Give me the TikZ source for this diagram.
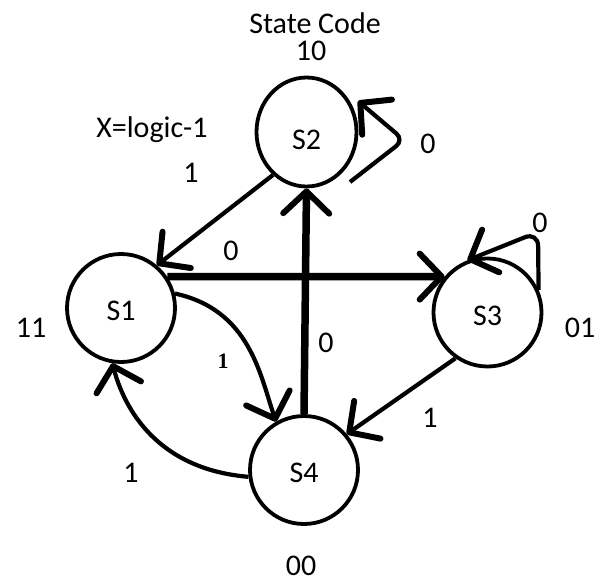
\documentclass[tikz,border=0pt]{standalone}
\usepackage{fontspec}
\setmainfont{Carlito}
\newfontfamily\labserif{Liberation Serif}
\usetikzlibrary{arrows.meta,shapes.geometric}
\begin{document}
\begin{tikzpicture}[x=1pt,y=-1pt,
  txt/.style={font=\fontsize{30}{36}\selectfont},
  state/.style={circle,draw,line width=3.8pt,inner sep=0pt,minimum size=108pt,
    txt,text height=25pt,text depth=0pt},
  barbtip/.style={-{Straight Barb[length=22pt,width=46pt,line width=6pt,round]}},
  thinedge/.style={line width=4.2pt,barbtip},
  thickedge/.style={line width=7.5pt,barbtip},
  lab/.style={txt,inner sep=0pt,anchor=base}]
\useasboundingbox (0,0) rectangle (605,581);

% states
\node[ellipse,draw,line width=3.8pt,inner sep=0pt,minimum width=100pt,minimum height=109pt,
  txt,text height=35pt,text depth=0pt] (S2) at (306.5,132) {S2};
\node[state] (S1) at (121,308) {S1};
\node[state] (S3) at (487.5,312.5) {S3};
\node[state] (S4) at (304,470) {S4};

% state codes and headings
\node[lab] (head) at (315,33) {State Code};
\node[lab] (c2) at (311,60) {10};
\node[lab] (c1) at (31,337) {11};
\node[lab] (c3) at (580,337) {01};
\node[lab] (c4) at (301,575) {00};
\node[lab] (cond) at (152,137) {X=logic-1};

% transitions
\draw[thinedge] (S2.232) -- (S1.50);
\draw[thickedge] (S1.34) -- (S3.140);
\draw[thickedge] (S4.north) -- (S2.south);
\draw[thinedge] (S3.235) -- (S4.40);
\draw[thinedge] (S1.15) .. controls (250,310) and (260,375) .. (S4.120);
\draw[thinedge] (S4.187) .. controls (165,470) and (127,418) .. (S1.-99);

% self loops
\coordinate (s2a) at (350,182);
\coordinate (s2b) at (404,140);
\coordinate (s2c) at (358,101);
\draw[thinedge,rounded corners=10pt] (s2a) -- (s2b) -- (s2c);
\coordinate (s3b) at (538,232);
\draw[thinedge,rounded corners=14pt] (S3.24) -- (s3b) -- (S3.111);

% transition labels
\node[lab] (t21) at (191,182) {1};
\node[lab] (t13) at (231,260) {0};
\node[lab] (t22) at (428,153) {0};
\node[lab] (t33) at (540,232) {0};
\node[lab] (t42) at (326,352) {0};
\node[lab] (t34) at (430,427) {1};
\node[lab] (t41) at (131,482) {1};
\node[inner sep=0pt,anchor=base,font=\labserif\bfseries\fontsize{22}{26}\selectfont] (t14) at (223,368) {1};
\end{tikzpicture}
\end{document}
